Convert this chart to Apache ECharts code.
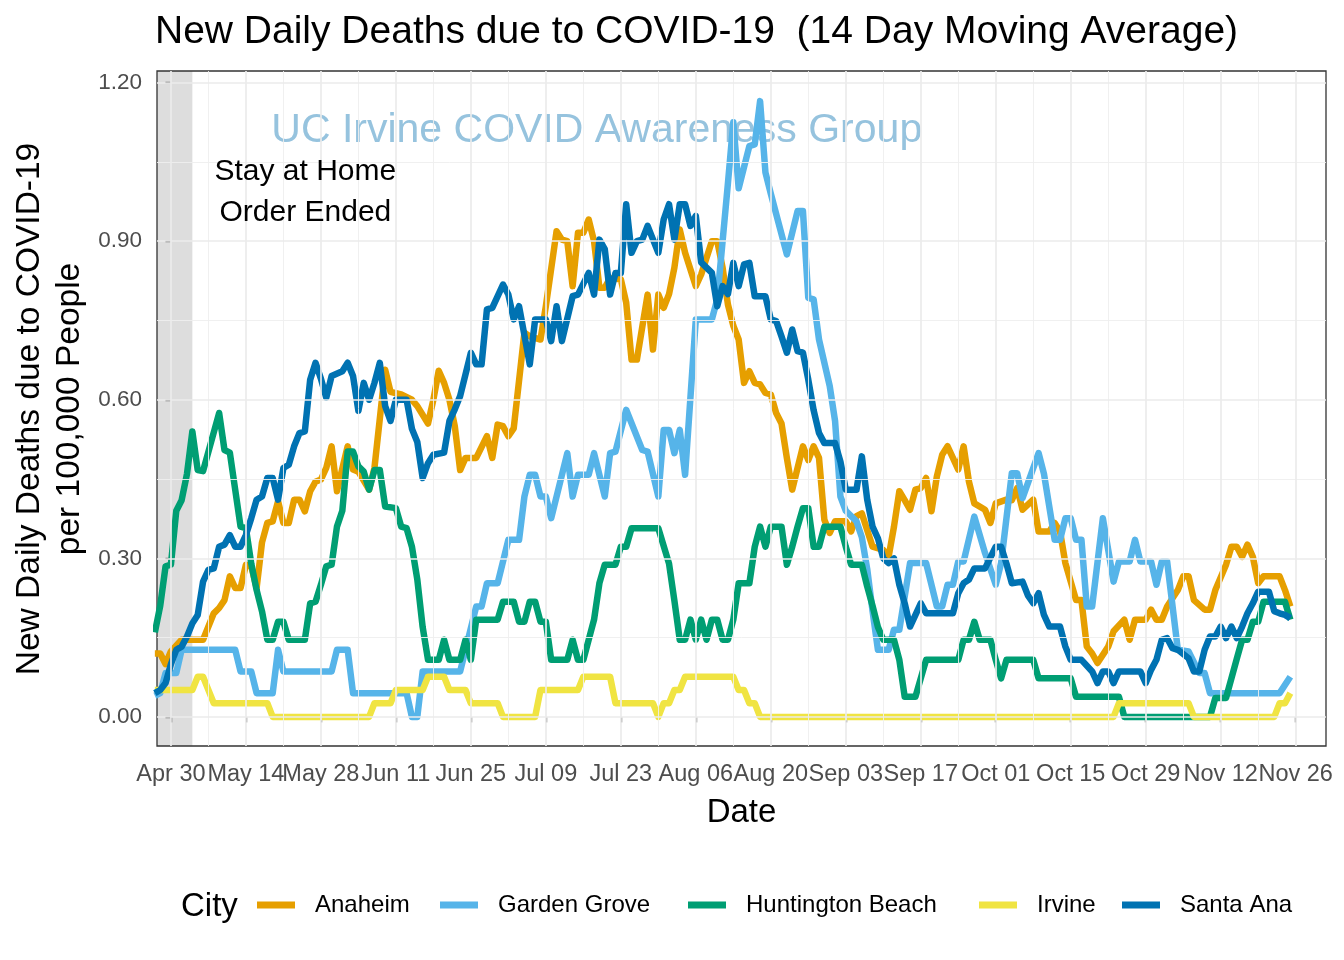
<!DOCTYPE html>
<html><head><meta charset="utf-8">
<script src="https://cdn.jsdelivr.net/npm/echarts@6/dist/echarts.min.js"></script>
<style>html,body{margin:0;padding:0;background:#fff}#c{width:1344px;height:960px}</style>
</head><body><div id="c"></div>
<script>
// ---- data: [day offset from 2020-04-30, deaths per 100,000 (14-day avg)] ----
const cities = ['Anaheim', 'Garden Grove', 'Huntington Beach', 'Irvine', 'Santa Ana'];
const colors = ['#E69F00', '#56B4E9', '#009E73', '#F0E442', '#0072B2'];

const anaheim = [[-3,0.12],[-2,0.12],[-1,0.10],[0,0.124],[2,0.146],[6,0.146],[8,0.196],[9,0.206],[10,0.221],[11,0.266],[12,0.244],[13,0.244],[14,0.288],[15,0.285],[16,0.244],[17,0.33],[18,0.367],[19,0.37],[20,0.408],[21,0.367],[22,0.367],[23,0.411],[24,0.411],[25,0.389],[26,0.427],[27,0.445],[28,0.449],[29,0.471],[30,0.512],[31,0.427],[32,0.47],[33,0.512],[34,0.468],[35,0.464],[37,0.43],[38,0.471],[40,0.657],[41,0.615],[43,0.61],[45,0.6],[46,0.588],[48,0.555],[49,0.6],[50,0.655],[51,0.632],[52,0.6],[53,0.55],[54,0.467],[55,0.49],[57,0.49],[59,0.531],[60,0.49],[61,0.553],[62,0.55],[63,0.531],[64,0.546],[66,0.727],[67,0.72],[69,0.714],[70,0.777],[72,0.919],[73,0.903],[74,0.9],[75,0.815],[76,0.916],[77,0.916],[78,0.941],[79,0.9],[80,0.812],[81,0.812],[82,0.83],[84,0.828],[85,0.784],[86,0.676],[87,0.676],[89,0.799],[90,0.695],[91,0.799],[92,0.774],[93,0.8],[94,0.85],[95,0.922],[96,0.878],[98,0.815],[99,0.837],[101,0.9],[102,0.9],[103,0.85],[104,0.78],[105,0.74],[106,0.714],[107,0.632],[108,0.654],[109,0.632],[110,0.629],[111,0.613],[112,0.61],[113,0.575],[114,0.555],[115,0.49],[116,0.43],[118,0.512],[119,0.486],[120,0.512],[121,0.49],[122,0.373],[123,0.348],[124,0.37],[126,0.37],[127,0.351],[128,0.38],[129,0.385],[131,0.322],[133,0.316],[134,0.303],[135,0.36],[136,0.427],[137,0.41],[138,0.392],[139,0.43],[140,0.433],[141,0.452],[142,0.389],[143,0.455],[144,0.496],[145,0.512],[146,0.49],[147,0.468],[148,0.512],[149,0.445],[150,0.404],[152,0.392],[153,0.367],[154,0.404],[156,0.411],[157,0.41],[158,0.433],[159,0.392],[161,0.411],[162,0.351],[164,0.351],[165,0.367],[166,0.351],[167,0.291],[169,0.221],[170,0.221],[171,0.133],[172,0.12],[173,0.102],[175,0.133],[176,0.162],[178,0.184],[179,0.146],[180,0.184],[182,0.184],[183,0.203],[184,0.184],[185,0.184],[186,0.209],[188,0.24],[189,0.266],[190,0.266],[191,0.221],[193,0.203],[194,0.203],[195,0.24],[197,0.288],[198,0.322],[199,0.322],[200,0.303],[201,0.326],[202,0.303],[203,0.253],[204,0.266],[207,0.266],[208,0.24],[209,0.209]];

const gardenGrove = [[-3,0.04],[-2,0.045],[-1,0.083],[1,0.083],[2,0.127],[12,0.127],[13,0.086],[15,0.086],[16,0.045],[19,0.045],[20,0.127],[21,0.086],[30,0.086],[31,0.127],[33,0.127],[34,0.045],[44,0.045],[45,0],[46,0],[47,0.086],[54,0.086],[57,0.209],[58,0.209],[59,0.253],[61,0.253],[63,0.335],[65,0.335],[66,0.417],[67,0.458],[68,0.458],[69,0.417],[70,0.417],[71,0.376],[74,0.499],[75,0.417],[76,0.458],[78,0.458],[79,0.499],[81,0.417],[82,0.499],[83,0.502],[85,0.581],[88,0.505],[89,0.502],[91,0.417],[92,0.543],[93,0.543],[94,0.499],[95,0.543],[96,0.458],[98,0.752],[101,0.752],[102,0.79],[103,0.9],[104,1.01],[105,1.125],[106,1.0],[108,1.08],[109,1.083],[110,1.165],[111,1.03],[112,0.99],[115,0.875],[117,0.957],[118,0.957],[119,0.793],[120,0.79],[121,0.714],[123,0.626],[124,0.56],[125,0.417],[126,0.39],[128,0.37],[129,0.34],[130,0.28],[131,0.2],[132,0.127],[134,0.127],[135,0.165],[136,0.165],[138,0.291],[141,0.291],[143,0.209],[144,0.209],[145,0.25],[146,0.25],[147,0.294],[148,0.294],[150,0.379],[152,0.31],[154,0.25],[155,0.291],[157,0.461],[158,0.461],[159,0.414],[162,0.499],[163,0.46],[165,0.335],[166,0.335],[167,0.376],[168,0.376],[169,0.335],[170,0.335],[171,0.209],[172,0.209],[174,0.376],[176,0.256],[177,0.294],[179,0.294],[180,0.335],[181,0.294],[183,0.294],[184,0.25],[185,0.294],[186,0.294],[188,0.127],[190,0.124],[192,0.083],[193,0.083],[194,0.045],[207,0.045],[209,0.076]];

const huntingtonBeach = [[-3,0.16],[-2,0.21],[-1,0.285],[0,0.288],[1,0.39],[2,0.41],[3,0.46],[4,0.54],[5,0.467],[6,0.465],[9,0.575],[10,0.505],[11,0.5],[12,0.43],[13,0.36],[14,0.357],[15,0.29],[16,0.24],[17,0.2],[18,0.146],[19,0.146],[20,0.18],[21,0.18],[22,0.146],[25,0.146],[26,0.215],[27,0.218],[28,0.25],[29,0.285],[30,0.288],[31,0.36],[32,0.39],[33,0.502],[34,0.502],[35,0.474],[36,0.464],[37,0.43],[38,0.467],[39,0.467],[40,0.398],[42,0.395],[43,0.36],[44,0.357],[45,0.322],[46,0.26],[47,0.17],[48,0.108],[50,0.108],[51,0.146],[52,0.108],[54,0.108],[55,0.146],[56,0.108],[57,0.184],[61,0.184],[62,0.218],[64,0.218],[65,0.18],[66,0.18],[67,0.218],[68,0.218],[69,0.18],[70,0.18],[71,0.108],[74,0.108],[75,0.146],[76,0.108],[77,0.108],[78,0.146],[79,0.184],[80,0.253],[81,0.288],[83,0.288],[84,0.322],[85,0.322],[86,0.357],[91,0.357],[93,0.29],[94,0.22],[95,0.146],[96,0.146],[97,0.184],[98,0.146],[99,0.184],[100,0.146],[101,0.184],[102,0.184],[103,0.146],[104,0.146],[105,0.184],[106,0.253],[108,0.253],[109,0.322],[110,0.36],[111,0.322],[112,0.36],[114,0.36],[115,0.288],[116,0.322],[117,0.36],[118,0.395],[119,0.395],[120,0.322],[121,0.322],[122,0.36],[125,0.36],[126,0.322],[127,0.288],[129,0.288],[130,0.247],[131,0.21],[132,0.17],[133,0.146],[135,0.146],[136,0.108],[137,0.038],[139,0.038],[140,0.073],[141,0.108],[147,0.108],[148,0.146],[149,0.146],[150,0.18],[151,0.146],[153,0.146],[154,0.108],[155,0.073],[156,0.108],[161,0.108],[162,0.073],[168,0.073],[169,0.038],[177,0.038],[178,0],[194,0],[195,0.036],[197,0.036],[198,0.073],[199,0.11],[200,0.146],[201,0.146],[202,0.18],[203,0.18],[204,0.218],[208,0.218],[209,0.184]];

const irvine = [[-3,0.051],[4,0.051],[5,0.076],[6,0.076],[8,0.026],[18,0.026],[19,0],[37,0],[38,0.026],[41,0.026],[42,0.051],[47,0.051],[48,0.076],[51,0.076],[52,0.051],[55,0.051],[56,0.026],[61,0.026],[62,0],[68,0],[69,0.051],[76,0.051],[77,0.076],[82,0.076],[83,0.026],[90,0.026],[91,0],[92,0.026],[93,0.026],[94,0.051],[95,0.051],[96,0.076],[105,0.076],[106,0.051],[107,0.051],[108,0.026],[109,0.026],[110,0],[176,0],[177,0.026],[190,0.026],[191,0],[206,0],[207,0.026],[208,0.026],[209,0.045]];

const santaAna = [[-3,0.045],[-2,0.051],[-1,0.064],[0,0.1],[1,0.127],[2,0.133],[3,0.152],[4,0.177],[5,0.193],[6,0.256],[7,0.278],[8,0.281],[9,0.322],[10,0.326],[11,0.344],[12,0.322],[13,0.322],[14,0.344],[15,0.376],[16,0.411],[17,0.417],[18,0.452],[19,0.452],[20,0.411],[21,0.471],[22,0.477],[23,0.512],[24,0.537],[25,0.54],[26,0.638],[27,0.67],[28,0.64],[29,0.604],[30,0.645],[32,0.654],[33,0.67],[34,0.645],[35,0.579],[36,0.632],[37,0.6],[38,0.632],[39,0.67],[40,0.588],[41,0.56],[42,0.6],[44,0.6],[45,0.545],[46,0.52],[47,0.452],[48,0.48],[49,0.496],[51,0.5],[52,0.56],[53,0.582],[54,0.607],[56,0.689],[57,0.667],[58,0.667],[59,0.771],[60,0.774],[62,0.818],[63,0.799],[64,0.752],[65,0.777],[67,0.667],[68,0.752],[70,0.752],[71,0.711],[72,0.777],[73,0.711],[75,0.796],[76,0.799],[78,0.84],[79,0.799],[80,0.903],[81,0.885],[82,0.799],[83,0.84],[84,0.84],[85,0.97],[86,0.878],[87,0.9],[88,0.903],[89,0.929],[91,0.878],[92,0.941],[93,0.97],[94,0.903],[95,0.97],[96,0.97],[97,0.929],[98,0.948],[99,0.86],[100,0.85],[101,0.84],[102,0.777],[103,0.815],[104,0.8],[105,0.859],[106,0.815],[107,0.856],[108,0.859],[109,0.796],[111,0.796],[112,0.752],[113,0.749],[114,0.72],[115,0.689],[116,0.733],[117,0.692],[118,0.689],[119,0.638],[120,0.58],[121,0.537],[122,0.518],[124,0.518],[125,0.483],[126,0.43],[128,0.43],[129,0.493],[130,0.411],[131,0.36],[132,0.338],[133,0.3],[134,0.291],[135,0.3],[136,0.25],[137,0.215],[138,0.171],[140,0.215],[141,0.196],[146,0.196],[147,0.234],[148,0.253],[149,0.26],[150,0.281],[152,0.281],[154,0.322],[155,0.322],[156,0.29],[157,0.253],[159,0.256],[160,0.23],[161,0.215],[162,0.234],[163,0.193],[164,0.171],[166,0.171],[167,0.133],[168,0.108],[170,0.108],[172,0.086],[173,0.064],[174,0.086],[175,0.086],[176,0.064],[177,0.086],[181,0.086],[182,0.064],[183,0.089],[184,0.108],[185,0.146],[186,0.149],[187,0.13],[188,0.127],[190,0.111],[191,0.086],[192,0.086],[193,0.127],[194,0.152],[195,0.152],[196,0.171],[197,0.149],[198,0.171],[199,0.149],[200,0.171],[201,0.196],[202,0.215],[203,0.237],[205,0.237],[206,0.2],[207,0.196],[208,0.193],[209,0.187]];

// ---- ticks (x in days from 2020-04-30) ----
const xTickDays = [0,14,28,42,56,70,84,98,112,126,140,154,168,182,196,210];
const xTickLabels = ['Apr 30','May 14','May 28','Jun 11','Jun 25','Jul 09','Jul 23','Aug 06','Aug 20','Sep 03','Sep 17','Oct 01','Oct 15','Oct 29','Nov 12','Nov 26'];
const xMinorDays = [7,21,35,49,63,77,91,105,119,133,147,161,175,189,203];
const yTicks = [0, 0.3, 0.6, 0.9, 1.2];
const yMinor = [0.15, 0.45, 0.75, 1.05];
const shadeEndDay = 4; // stay-at-home order ended (May 4)

// ---- setup ----
const F = '"Liberation Sans", Arial, sans-serif';
const xMin = -2.6, xMax = 215.66;
const seriesData = [anaheim, gardenGrove, huntingtonBeach, irvine, santaAna];
const legendLeft = [257, 440, 688, 979, 1122];

const chart = echarts.init(document.getElementById('c'), null, {renderer: 'canvas'});

const gridMajor = {color: '#EBEBEB', width: 1.7, type: 'solid'};
const gridMinor = {color: '#EEEEEE', width: 0.9, type: 'solid'};

const option = {
  animation: false,
  backgroundColor: '#fff',
  title: {
    text: 'New Daily Deaths due to COVID-19  (14 Day Moving Average)',
    left: 155, top: 13, padding: 0,
    textStyle: {fontFamily: F, fontSize: 39, fontWeight: 'normal', color: '#000'}
  },
  grid: {left: 157, right: 18, top: 71, bottom: 214, show: true, backgroundColor: '#fff', borderColor: '#333333', borderWidth: 1.3},
  legend: cities.map((c, i) => ({
    data: [c], left: legendLeft[i], top: 893, padding: 0, itemWidth: 38, itemHeight: 7, icon: 'rect', selectedMode: false,
    textStyle: {fontFamily: F, fontSize: 24, color: '#000', padding: [0, 0, 0, 15]}
  })),
  xAxis: {
    type: 'value', min: xMin, max: xMax,
    axisLine: {show: false},
    axisTick: {show: true, customValues: xTickDays, length: 5.5, lineStyle: {color: '#333', width: 1.3}},
    axisLabel: {customValues: xTickDays, fontFamily: F, fontSize: 23.5, color: '#4D4D4D', margin: 17, hideOverlap: false,
      formatter: v => { const i = xTickDays.indexOf(Math.round(v)); return i >= 0 ? xTickLabels[i] : ''; }},
    splitLine: {show: false},
    name: 'Date', nameLocation: 'middle', nameGap: 50,
    nameTextStyle: {fontFamily: F, fontSize: 33, color: '#000'}
  },
  yAxis: {
    type: 'value', min: -0.055, max: 1.222,
    axisLine: {show: false},
    axisTick: {show: true, customValues: yTicks, length: 5.5, lineStyle: {color: '#333', width: 1.3}},
    axisLabel: {customValues: yTicks, fontFamily: F, fontSize: 22.5, color: '#4D4D4D', margin: 15, formatter: v => v.toFixed(2)},
    splitLine: {show: false}
  },
  series: [
    {
      type: 'line', name: '_grid', data: [], silent: true, z: 1,
      markLine: {
        silent: true, symbol: ['none', 'none'], label: {show: false}, animation: false,
        emphasis: {disabled: true},
        data: [
          ...xMinorDays.map(d => ({xAxis: d, lineStyle: gridMinor})),
          ...yMinor.map(v => ({yAxis: v, lineStyle: gridMinor})),
          ...xTickDays.map(d => ({xAxis: d, lineStyle: gridMajor})),
          ...yTicks.map(v => ({yAxis: v, lineStyle: gridMajor}))
        ]
      }
    },
    ...cities.map((c, i) => ({
      type: 'line', name: c, z: 3,
      data: seriesData[i],
      showSymbol: false, symbol: 'none', clip: true,
      lineStyle: {width: 6.5, color: colors[i], cap: 'butt', join: 'round'},
      itemStyle: {color: colors[i]},
      emphasis: {disabled: true}
    })),
    {
      type: 'line', name: '_shade', data: [], silent: true, z: 10,
      markArea: {silent: true, itemStyle: {color: 'rgba(51,51,51,0.17)'}, emphasis: {disabled: true},
        data: [[{xAxis: xMin}, {xAxis: shadeEndDay}]]}
    }
  ]
};
chart.setOption(option);

// annotations, anchored in data space
const wm = chart.convertToPixel({gridIndex: 0}, [79.5, 1.109]);
const sh = chart.convertToPixel({gridIndex: 0}, [25.1, 0.993]);
chart.setOption({
  graphic: [
    {type: 'text', x: wm[0], y: wm[1], z: 2, silent: true,
      style: {text: 'UC Irvine COVID Awareness Group', align: 'center', verticalAlign: 'middle', fontFamily: F, fontSize: 41, fill: '#96C3DE'}},
    {type: 'text', x: sh[0], y: sh[1], z: 20, silent: true,
      style: {text: 'Stay at Home\nOrder Ended', align: 'center', verticalAlign: 'middle', fontFamily: F, fontSize: 30, lineHeight: 41, fill: '#000'}},
    {type: 'text', x: 50, y: 409, rotation: Math.PI / 2, silent: true,
      style: {text: 'New Daily Deaths due to COVID-19\nper 100,000 People', align: 'center', verticalAlign: 'middle', fontFamily: F, fontSize: 33.5, lineHeight: 40, fill: '#000'}},
    {type: 'text', x: 181, y: 907, silent: true,
      style: {text: 'City', align: 'left', verticalAlign: 'middle', fontFamily: F, fontSize: 33, fill: '#000'}}
  ]
});
</script></body></html>
